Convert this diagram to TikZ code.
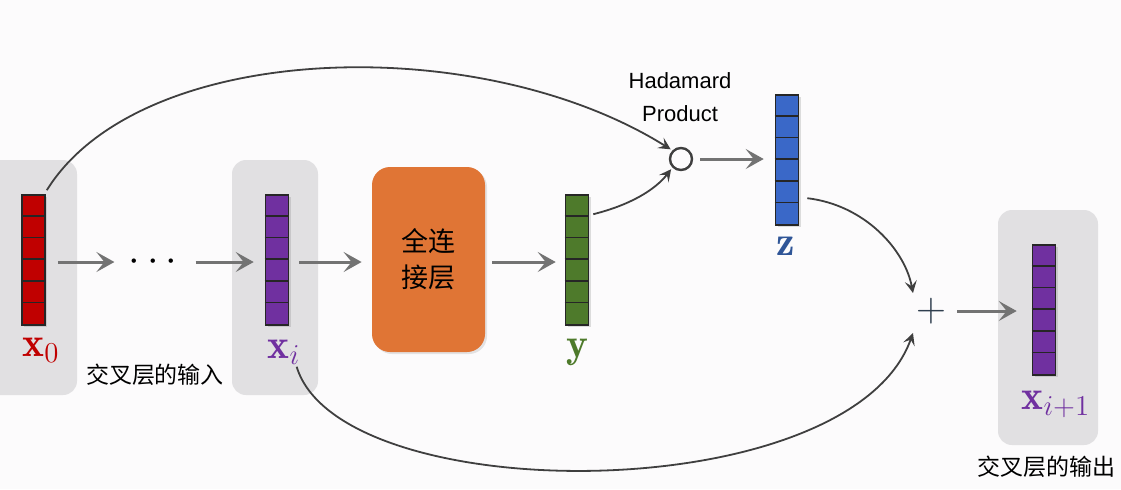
\documentclass[tikz,border=0pt]{standalone}
\usepackage{fontspec}
\newfontfamily\cjk{Noto Sans CJK SC}
\newfontfamily\hfont{Liberation Sans}
\usetikzlibrary{arrows.meta,shadows}
\DeclareMathSizes{20.74}{20.74}{14.4}{12}
\definecolor{bgc}{HTML}{FCFBFC}
\definecolor{boxgray}{HTML}{E1E0E2}
\definecolor{vred}{HTML}{C00000}
\definecolor{vpurple}{HTML}{7030A0}
\definecolor{vgreen}{HTML}{4E7A2B}
\definecolor{vblue}{HTML}{3A68C8}
\definecolor{tblue}{HTML}{2F5597}
\definecolor{vorange}{HTML}{E07535}
\definecolor{arrgray}{HTML}{737373}
\definecolor{curvegray}{HTML}{3F3F3F}
\definecolor{plusc}{HTML}{2F3E4E}
\newcommand{\cellsof}[1]{\foreach \k in {1,...,5}{\draw[cellline] ([yshift=-\k*10.833pt]#1.north west) -- ([yshift=-\k*10.833pt]#1.north east);}}
\begin{document}
\begin{tikzpicture}[x=0.5pt,y=-0.5pt,
  graybox/.style={fill=boxgray, rounded corners=7pt, inner sep=0pt, minimum height=117.5pt},
  vecbox/.style={draw=black!85, line width=0.8pt, minimum width=11.5pt, minimum height=65pt, inner sep=0pt,
     drop shadow={opacity=0.25, shadow xshift=1pt, shadow yshift=-1pt}},
  cellline/.style={draw=black!85, line width=0.75pt},
  garrow/.style={draw=arrgray, line width=1.5pt, -{Stealth[length=9pt,width=10pt,inset=4pt]}},
  carrow/.style={draw=curvegray, line width=0.9pt, -{Stealth[length=6pt,width=6pt,inset=2.5pt]}},
  vlabel/.style={font=\fontsize{20.74}{22}\selectfont, inner sep=0pt},
  cjklabel/.style={font=\cjk\fontsize{11.5}{13}\selectfont, inner sep=0pt}
]
\useasboundingbox (0,0) rectangle (1121,489);
\fill[bgc] (0,0) rectangle (1121,489);
\begin{scope}
\clip (0,0) rectangle (1121,489);
% gray boxes
\node[graybox, minimum width=48.5pt] (bx0) at (28.5,277.5) {};
\node[graybox, minimum width=43pt] (bxi) at (275,277.5) {};
\node[graybox, minimum width=50pt] (bxo) at (1048,327.5) {};
\end{scope}
% vectors
\node[vecbox, fill=vred] (x0) at (33.5,260) {};
\cellsof{x0}
\node[vecbox, fill=vpurple] (xi) at (277,260) {};
\cellsof{xi}
\node[vecbox, fill=vgreen] (y) at (577,260) {};
\cellsof{y}
\node[vecbox, fill=vblue] (z) at (787,160) {};
\cellsof{z}
\node[vecbox, fill=vpurple] (xo) at (1044,310) {};
\cellsof{xo}
% fully connected layer
\node[fill=vorange, rounded corners=9pt, minimum width=56.5pt, minimum height=92.5pt, inner sep=0pt,
  drop shadow={opacity=0.2, shadow xshift=1pt, shadow yshift=-1pt},
  font=\cjk\fontsize{13.5}{18}\selectfont, align=center] (fc) at (428.5,259.5) {全连\\接层};
% dots
\node[inner sep=0pt, minimum width=16pt, font=\fontsize{20.74}{22}\selectfont] (dots) at (153,262) {$\cdots$};
% hadamard
\node[circle, draw=curvegray, line width=1.2pt, minimum size=11pt, inner sep=0pt] (hp) at (681,159) {};
\node[font=\hfont\fontsize{11}{16.5}\selectfont, align=center, inner sep=0pt] (hpt) at (680,97) {Hadamard\\Product};
% plus
\node[inner sep=0pt, minimum width=10pt, text=plusc, font=\fontsize{22}{24}\selectfont] (plus) at (931,311) {$+$};
% labels
\node[vlabel, text=vred] (x0l) at (41,350) {$\mathbf{x}_0$};
\node[vlabel, text=vpurple] (xil) at (284,352) {$\mathbf{x}_i$};
\node[vlabel, text=vgreen] (yl) at (577,352) {$\mathbf{y}$};
\node[vlabel, text=tblue] (zl) at (786,246) {$\mathbf{z}$};
\node[vlabel, text=vpurple] (xol) at (1056,404) {$\mathbf{x}_{i+1}$};
\node[cjklabel] (inl) at (155,375) {交叉层的输入};
\node[cjklabel] (outl) at (1046,467) {交叉层的输出};
% straight arrows
\draw[garrow, shorten <=6pt, shorten >=7pt] (x0.east |- dots.west) -- (dots.west);
\draw[garrow, shorten <=9pt, shorten >=5.5pt] (dots.east) -- (xi.west |- dots.east);
\draw[garrow, shorten <=5pt, shorten >=5pt] (xi.east |- dots.east) -- (fc.west |- dots.east);
\draw[garrow, shorten <=3.5pt, shorten >=4.5pt] (fc.east |- dots.east) -- (y.west |- dots.east);
\draw[garrow, shorten <=3.5pt, shorten >=5.5pt] (hp.east) -- (z.west |- hp.east);
\draw[garrow, shorten <=5.5pt, shorten >=7.5pt] (plus.east) -- (xo.west |- plus.east);
% curves
\draw[carrow, shorten >=1pt] ([xshift=0.5pt,yshift=2pt]x0.north east) .. controls (140,40) and (480,30) .. (hp.north west);
\draw[carrow, shorten >=1pt] ([xshift=2pt,yshift=-10pt]y.north east) .. controls (630,205) and (655,190) .. (hp.south west);
\draw[carrow] ([xshift=4pt,yshift=-52pt]z.north east) .. controls (865,205) and (905,250) .. ([xshift=-9pt,yshift=9pt]plus.center);
\draw[carrow] ([xshift=-2pt,yshift=-1pt]xil.south east) .. controls (340,510) and (850,510) .. ([xshift=-9pt,yshift=-11pt]plus.center);
\end{tikzpicture}
\end{document}
